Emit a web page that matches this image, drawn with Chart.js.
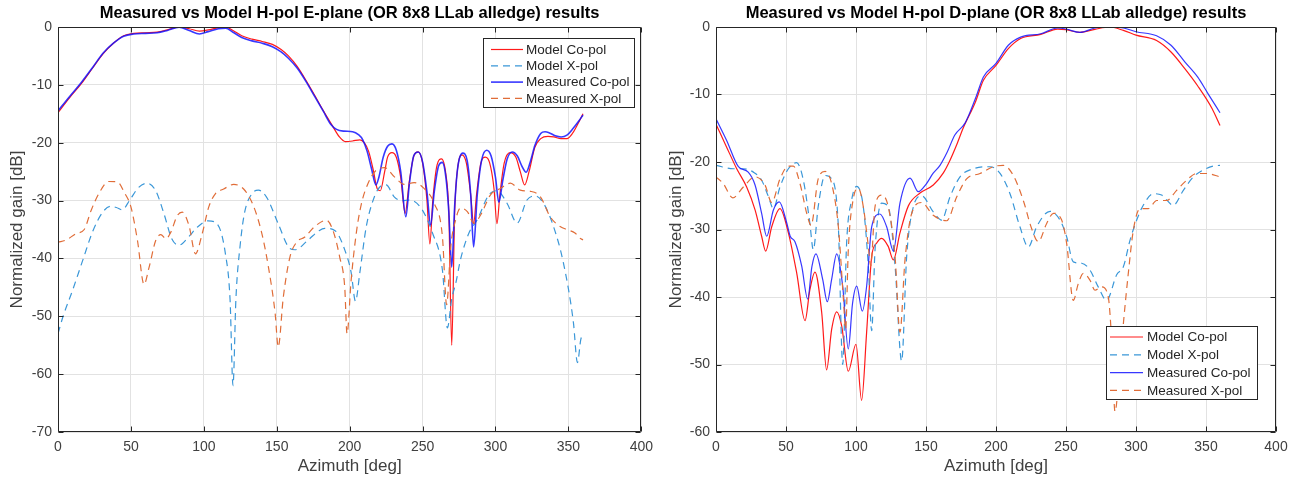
<!DOCTYPE html>
<html><head><meta charset="utf-8">
<script src="https://cdn.jsdelivr.net/npm/chart.js@4.4.1/dist/chart.umd.min.js"></script>
<style>
html,body{margin:0;padding:0;background:#fff;width:1296px;height:477px;overflow:hidden}
canvas{position:absolute;top:0}
#c1{left:0}
#c2{left:660px}
</style></head><body>
<canvas id="c1" width="660" height="477"></canvas>
<canvas id="c2" width="636" height="477"></canvas>
<script>
// ---------- tick labels ----------
const xTicks = [0, 50, 100, 150, 200, 250, 300, 350, 400];
const eYTicks = [0, -10, -20, -30, -40, -50, -60, -70];
const dYTicks = [0, -10, -20, -30, -40, -50, -60];
const seriesNames = ['Model Co-pol', 'Model X-pol', 'Measured Co-pol', 'Measured X-pol'];

// ---------- E-plane (left) ----------
const eModelCoAz = [0,8,16,24,31,38,45,52,60,68,75,83,90,97,103,110,115,120,126,133,140,147,153,158,164,170,176,182,188,193,197,202,207,210,213,216,219,221,224,226,229,232,235,238,241,244,247,250,253,255,257,260,263,266,268,270,272,274,277,280,283,285,287,290,293,296,299,301,303,306,310,314,317,320,323,327,331,336,340,345,349,353,357,360];
const eModelCoDb = [-14.8,-12.2,-9.8,-7.0,-4.6,-2.8,-1.5,-1.1,-1.0,-0.9,-0.5,0,-0.3,-0.7,-0.5,-0.1,0,-0.6,-1.5,-2.1,-2.5,-3.0,-3.9,-5.0,-6.8,-9.2,-11.8,-14.5,-17.0,-19.0,-19.8,-19.7,-19.5,-20.0,-21.5,-24.5,-28.0,-28.3,-25,-22.5,-21.7,-22.5,-26,-32.2,-26.5,-22.3,-21.6,-23.5,-30,-37.5,-30,-23.8,-22.8,-25.5,-32,-55,-32,-24.5,-22.1,-23.5,-29,-34,-29,-23.5,-22.5,-23.5,-28,-34,-29,-23.5,-21.7,-22.5,-25,-27.3,-25,-20.8,-19.3,-18.9,-19.0,-19.3,-19.3,-18.3,-16.5,-15.0];

const eModelXAz = [0,3.5,10,17,24,30.7,36,40,44,49,55,61,67,72.7,78,83,89.8,95.5,103,109,114.8,118,120,122,125,128,133,137.5,143,151,158,162.5,171.6,179,183,190,196.6,201,204,207,211.4,216,220.5,225,230.7,236,241,249,256.8,263.6,267,270,273,276,281.8,287.5,295.5,301,308,314.8,321.6,327.3,333,339.8,346.6,353.4,356.2,358.5,360];
const eModelXDb = [-53,-50,-45.5,-40.3,-35.2,-32,-31,-31.2,-31.6,-30,-27.8,-27,-28.3,-32.3,-36.6,-37.7,-36.2,-34.6,-33.5,-34,-39.2,-47.2,-62,-47,-37.5,-32,-28.8,-28.2,-29.4,-34,-38,-38.5,-36.8,-35.2,-34.8,-35.2,-38.5,-42.4,-47.4,-42.4,-34.5,-30,-27.7,-27.3,-29.4,-30,-29.9,-31.3,-35.6,-42,-52,-47,-44,-40.2,-35.6,-33.3,-29,-28.3,-30.5,-33.9,-29.9,-29.2,-30.5,-34.5,-40.8,-51,-58,-54,-53];

const eMeasCoAz = [0,8,16,24,31,38,45,52,60,68,75,83,90,97,103,110,115,120,126,133,140,147,153,158,164,170,176,182,187,191,196,202,206,209,212,215,218,220,223,226,229,232,235,238.5,241,244,247,250,253,255.5,258,261,263.5,266,268,270,272,274,277.5,280.5,283,285,287.5,290.5,294,297,300,302.3,305,308,311.5,315,318,321,324,327,331,334,337,341,345,349,353,357,360];
const eMeasCoDb = [-14.5,-12.0,-9.6,-6.9,-4.5,-2.8,-1.6,-1.2,-1.1,-1.0,-0.6,-0.05,-0.6,-1.2,-0.8,-0.3,-0.2,-0.9,-1.8,-2.4,-2.8,-3.4,-4.3,-5.4,-7.1,-9.4,-12.0,-14.6,-16.8,-17.7,-18.0,-18.1,-18.6,-19.5,-21.5,-24.5,-27.3,-26,-22.5,-20.6,-20.2,-21.3,-25,-32.8,-27,-22.2,-21.6,-23.3,-28.5,-34.2,-28.5,-24,-23.4,-26,-32,-41.5,-31,-24.5,-21.8,-23,-29,-38,-29,-23,-21.3,-22.3,-26,-30.3,-26.5,-22.8,-21.6,-22.3,-24,-25.1,-23.2,-20.5,-18.4,-18.1,-18.3,-18.8,-19.0,-18.7,-17.6,-16.3,-15.2];

const eMeasXAz = [0,5.7,12.5,18,22.7,28.4,34.8,40.9,45.5,50,54.5,59,62.5,67,70.5,74,77.3,81.8,85.2,89.8,94.3,98.9,103.4,108,113.6,120.5,127.3,134,139.8,144.3,148.9,151,154.5,159,163.6,169.3,176,184,188.6,193.2,196.6,198.2,201,204.5,208,212.5,218,224,230.7,237.5,244.3,251,258,263.6,266.5,269.3,272.7,276,280.7,285.2,289.8,296.6,303.4,310.2,317,323.9,330.7,337.5,344.3,350,354.5,358,360];
const eMeasXDb = [-37.2,-36.8,-35.7,-35,-31.7,-28.6,-26.7,-26.8,-28.6,-31.1,-36.9,-44.5,-41.5,-36.9,-35.9,-36.6,-35.5,-32.6,-32,-34.3,-39.2,-35.7,-31.1,-28.8,-28,-27.2,-28,-30.9,-35.7,-41.5,-49.5,-55.3,-46.7,-39.8,-37.2,-36.3,-34.5,-33.4,-35.2,-39.8,-44.9,-53,-43.8,-35.7,-30.6,-27.1,-24.8,-24.3,-25.9,-27.2,-26.9,-27.9,-30.5,-36.2,-48,-38,-33.3,-31.3,-31.9,-33.9,-32.5,-29,-27.9,-27,-28.2,-28.4,-29.3,-32.8,-34.5,-35.1,-35.6,-36.5,-36.8];

// ---------- D-plane (right) ----------
const dModelCoAz = [0,7.6,14.8,21.9,27.9,32.6,35.5,39.8,45.7,51.7,57.6,63.6,67,70.7,75.5,79,82.6,86.2,89.8,94.5,100,104,107.6,111.2,114.8,118.3,123,126.7,131.4,137.4,145.7,155.2,162.4,167,172,176.5,185.3,191,200,208.8,217.6,232,244,250,260,270.6,281,291,300,314.7,325,335,344,354.4,360];
const dModelCoDb = [-14.4,-17.8,-21,-23.7,-27.1,-31,-33.2,-29.6,-26.9,-30.5,-36.4,-43.5,-39,-36.3,-42.3,-50.8,-44.8,-42.2,-44.3,-51,-47,-55.3,-45.2,-34,-32,-31.3,-32.5,-34.5,-30.5,-26.5,-24.6,-23.4,-21.6,-19.8,-17.4,-15.0,-11.1,-7.9,-5.7,-3.2,-1.7,-1.1,-0.3,-0.4,-0.8,-0.35,0,-0.5,-1.2,-2.0,-3.7,-6.2,-8.7,-12.1,-14.6];

const dModelXAz = [0,12.4,19.5,26.7,32.6,37.4,41,45.7,51.7,57.6,62.4,67,69.5,73,77.9,82.6,87.4,90.5,93.3,96.9,100.5,105.2,108.8,111.2,113.6,118.3,123,127.9,132.6,136.2,141,146.9,155.2,161.2,167.1,174.3,183.8,195.7,202.9,210,217.1,223.1,229,238.6,245.7,250.5,255.2,261.2,267.1,273,279,286.2,291,295.7,300.5,305.2,312.4,318.3,326.7,333.8,341,348,355.2,360];
const dModelXDb = [-20.5,-21,-21,-21.5,-22.7,-25.1,-26.9,-23.7,-21,-20.1,-22.7,-29,-33,-26.6,-22,-22.5,-29.6,-50,-32,-25.6,-23.6,-26.6,-35.4,-45,-33,-26.1,-26.6,-35.4,-49.5,-34,-26.6,-25,-27.4,-28.6,-25.2,-22.2,-21,-20.7,-21.7,-24.7,-29.6,-32.6,-29.6,-27.3,-28.6,-31.1,-34.8,-35,-36,-38.5,-40.5,-36.7,-35.5,-31.6,-28.6,-26.4,-24.7,-24.9,-26.4,-24.2,-22.2,-21.2,-20.6,-20.5];

const dMeasCoAz = [0,7.6,16,23,27.9,32.6,36.2,41,45.2,50.5,53,56.4,61.2,65.5,68.5,71.4,76.2,79.5,82.6,86.2,90.5,94.5,97.5,100.5,104.5,107.6,111.2,117.1,121.9,126.7,131.4,138.6,144.5,150,155,160,165,170.6,178,185.3,191,200,208.8,217.6,232,244,250,260,270.6,281,291,300,314.7,325,335,344,351.5,360];
const dMeasCoDb = [-13.6,-16.8,-20.7,-21.5,-23.4,-27.6,-31,-27.1,-25.9,-29,-31,-31.8,-35.4,-40.3,-35.5,-33.6,-37.4,-40.7,-37.4,-33.6,-38.4,-47.7,-41,-38.4,-42.1,-38.4,-29.6,-27.7,-29.6,-33.2,-26.1,-22.4,-24.4,-23.3,-21.7,-20.5,-18.6,-16.0,-14.2,-10.6,-7.4,-5.4,-2.7,-1.5,-1.0,-0.15,-0.3,-0.8,-0.15,0,-0.15,-0.7,-1.3,-2.7,-5.2,-7.4,-9.9,-12.7];

const dMeasXAz = [0,5.2,12,19.5,27.9,35,39.8,45.7,51.7,55.2,60,64.8,67.9,73,77.9,82.6,87.4,91,92.6,94.5,98.1,101.7,105.2,108.8,110.5,113.6,118.3,123,127.9,131.4,135,139.8,146.9,155.2,164.8,171.9,179,188.6,198,205.2,212.4,219.5,225.5,230.2,236.2,241,246.9,250.5,255.2,258.8,262.4,267.1,270.7,275.5,280.2,282.6,285,288,291,294.5,298.1,302.9,308.8,314.8,322,329,336.2,343.3,350.5,360];
const dMeasXDb = [-22.2,-23.2,-25.3,-23.7,-22.2,-23.4,-26,-22.5,-20.6,-20.6,-23.2,-27.6,-29.4,-22.5,-21.4,-23.2,-29.6,-40.3,-44.8,-33,-25.4,-23.9,-26.6,-32.5,-35.4,-26.6,-24.9,-26.6,-34,-45.2,-34.5,-27.6,-26,-27.9,-28.7,-25.2,-22.5,-21.7,-20.7,-20.5,-22,-25.7,-29.9,-31.8,-29.1,-27.6,-28.6,-32.1,-40.5,-38,-36.5,-37.5,-39,-38.5,-40,-46.4,-57,-51.3,-43.9,-36.5,-30.1,-26.9,-26.9,-25.7,-25.7,-24.2,-22.7,-21.7,-21.7,-22.2];

// ---------- drawing ----------
const FONT = '"Liberation Sans", Arial, Helvetica, sans-serif';
const AXC = '#262626';
const TXC = '#404040';
const COLORS = {
  modelCo: '#ff1a1a',
  modelX: '#3a97d8',
  measCo: 'rgba(20,20,255,0.85)',
  measX: '#e06d38'
};
const pts = (az, db) => az.map((a, i) => ({x: a, y: db[i]}));

function makeDatasets(mCoAz, mCoDb, mXAz, mXDb, meCoAz, meCoDb, meXAz, meXDb, wCo) {
  const base = {pointRadius: 0, cubicInterpolationMode: 'monotone', fill: false};
  return [
    Object.assign({}, base, {label: seriesNames[0], data: pts(mCoAz, mCoDb), borderColor: COLORS.modelCo, borderWidth: 1.2, order: 4}),
    Object.assign({}, base, {label: seriesNames[1], data: pts(mXAz, mXDb), borderColor: COLORS.modelX, borderWidth: 1.2, borderDash: [7, 5], order: 3}),
    Object.assign({}, base, {label: seriesNames[2], data: pts(meCoAz, meCoDb), borderColor: COLORS.measCo, borderWidth: wCo, order: 2}),
    Object.assign({}, base, {label: seriesNames[3], data: pts(meXAz, meXDb), borderColor: COLORS.measX, borderWidth: 1.2, borderDash: [7, 5], order: 1})
  ];
}

const framePlugin = {
  id: 'frame',
  afterDatasetsDraw(chart) {
    const {ctx, chartArea: ca, scales} = chart;
    ctx.save();
    ctx.strokeStyle = AXC;
    ctx.lineWidth = 1;
    ctx.beginPath();
    const L = Math.round(ca.left) + 0.5, R = Math.round(ca.right) - 0.5;
    const T = Math.round(ca.top) + 0.5, B = Math.round(ca.bottom) - 0.5;
    ctx.rect(L, T, R - L, B - T);
    const tl = 5;
    scales.x.ticks.forEach(t => {
      const px = Math.round(scales.x.getPixelForValue(t.value)) + 0.5;
      ctx.moveTo(px, B); ctx.lineTo(px, B - tl);
      ctx.moveTo(px, T); ctx.lineTo(px, T + tl);
    });
    scales.y.ticks.forEach(t => {
      const py = Math.round(scales.y.getPixelForValue(t.value)) + 0.5;
      ctx.moveTo(L, py); ctx.lineTo(L + tl, py);
      ctx.moveTo(R, py); ctx.lineTo(R - tl, py);
    });
    ctx.stroke();
    ctx.restore();
  }
};

const deco = {
  id: 'deco',
  afterDraw(chart, args, opts) {
    const ctx = chart.ctx, ca = chart.chartArea;
    ctx.save();
    // title
    ctx.fillStyle = '#000';
    ctx.font = 'bold 16.5px ' + FONT;
    ctx.textAlign = 'center';
    ctx.textBaseline = 'middle';
    ctx.fillText(opts.title, (ca.left + ca.right) / 2, opts.titleY);
    // legend
    const lg = opts.legend;
    ctx.fillStyle = '#fff';
    ctx.fillRect(lg.x, lg.y, lg.w, lg.h);
    ctx.strokeStyle = AXC;
    ctx.lineWidth = 1;
    ctx.strokeRect(lg.x + 0.5, lg.y + 0.5, lg.w, lg.h);
    ctx.font = '13.5px ' + FONT;
    ctx.textAlign = 'left';
    chart.data.datasets.forEach((ds, i) => {
      const yy = lg.y + lg.first + i * lg.step;
      ctx.beginPath();
      ctx.strokeStyle = ds.borderColor;
      ctx.lineWidth = ds.borderWidth;
      ctx.setLineDash(ds.borderDash || []);
      ctx.moveTo(lg.x + lg.lx0, yy);
      ctx.lineTo(lg.x + lg.lx1, yy);
      ctx.stroke();
      ctx.setLineDash([]);
      ctx.fillStyle = '#262626';
      ctx.fillText(ds.label, lg.x + lg.tx, yy + 0.5);
    });
    ctx.restore();
  }
};

function makeScales(yTicks, yMin, yWidth, yTitlePad) {
  return {
    x: {
      type: 'linear', min: 0, max: 400,
      afterBuildTicks: s => { s.ticks = xTicks.map(v => ({value: v})); },
      afterFit: s => { s.height = 45; },
      grid: {color: '#e2e2e2', drawTicks: false, lineWidth: 1},
      border: {display: false},
      ticks: {padding: 7, color: TXC, font: {family: FONT, size: 14}, maxRotation: 0, autoSkip: false},
      title: {display: true, text: 'Azimuth [deg]', color: TXC, font: {family: FONT, size: 17}, padding: {top: 0, bottom: 0}}
    },
    y: {
      type: 'linear', min: yMin, max: 0,
      afterBuildTicks: s => { s.ticks = yTicks.map(v => ({value: v})); },
      afterFit: s => { s.width = yWidth; },
      grid: {color: '#e2e2e2', drawTicks: false, lineWidth: 1},
      border: {display: false},
      ticks: {padding: 6, color: TXC, font: {family: FONT, size: 14}, autoSkip: false},
      title: {display: true, text: 'Normalized gain [dB]', color: TXC, font: {family: FONT, size: 17}, padding: {top: yTitlePad, bottom: 0}}
    }
  };
}

new Chart(document.getElementById('c1'), {
  type: 'line',
  data: {datasets: makeDatasets(eModelCoAz, eModelCoDb, eModelXAz, eModelXDb, eMeasCoAz, eMeasCoDb, eMeasXAz, eMeasXDb, 1.6)},
  options: {
    responsive: false, animation: false,
    layout: {padding: {left: 0, right: 14, top: 27, bottom: 0}},
    scales: makeScales(eYTicks, -70, 58, 7),
    plugins: {
      legend: {display: false}, tooltip: {enabled: false},
      deco: {title: 'Measured vs Model H-pol E-plane (OR 8x8 LLab alledge) results', titleY: 13,
        legend: {x: 483, y: 38, w: 151, h: 69, first: 11.5, step: 16.3, lx0: 8, lx1: 40, tx: 43}}
    }
  },
  plugins: [framePlugin, deco]
});

new Chart(document.getElementById('c2'), {
  type: 'line',
  data: {datasets: makeDatasets(dModelCoAz, dModelCoDb, dModelXAz, dModelXDb, dMeasCoAz, dMeasCoDb, dMeasXAz, dMeasXDb, 1.2)},
  options: {
    responsive: false, animation: false,
    layout: {padding: {left: 0, right: 20, top: 27, bottom: 0}},
    scales: makeScales(dYTicks, -60, 56, 6),
    plugins: {
      legend: {display: false}, tooltip: {enabled: false},
      deco: {title: 'Measured vs Model H-pol D-plane (OR 8x8 LLab alledge) results', titleY: 13,
        legend: {x: 446, y: 326, w: 151, h: 73, first: 11, step: 17.8, lx0: 4, lx1: 37, tx: 41}}
    }
  },
  plugins: [framePlugin, deco]
});
</script>
</body></html>
